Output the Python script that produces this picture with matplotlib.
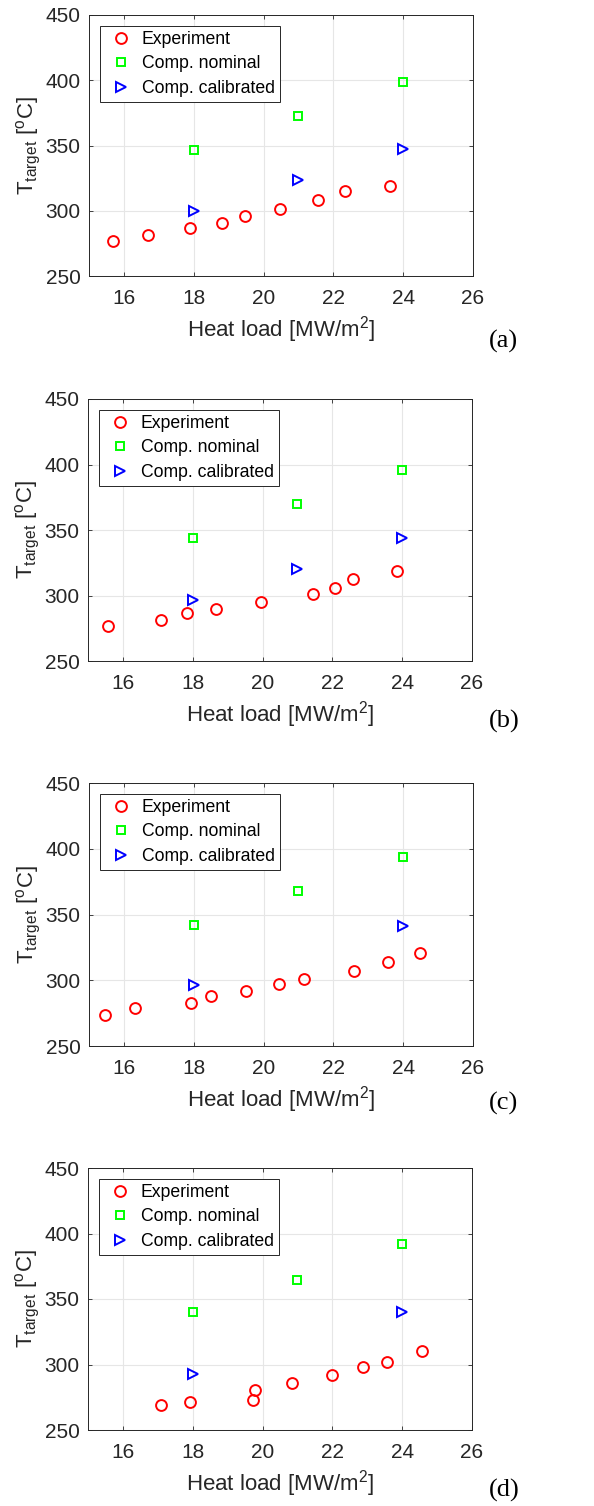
import matplotlib
matplotlib.use("Agg")
import matplotlib.pyplot as plt

plt.rcParams['font.family'] = ['Liberation Sans', 'DejaVu Sans']
plt.rcParams['mathtext.fontset'] = 'custom'
plt.rcParams['mathtext.rm'] = 'Liberation Sans'
plt.rcParams['mathtext.it'] = 'Liberation Sans:italic'

panel_labels = ['(a)', '(b)', '(c)', '(d)']

exp_x = [
    [15.68, 16.70, 17.89, 18.81, 19.48, 20.48, 21.56, 22.33, 23.62],
    [15.57, 17.10, 17.83, 18.68, 19.95, 21.44, 22.08, 22.60, 23.85],
    [15.46, 16.33, 17.92, 18.49, 19.50, 20.45, 21.15, 22.58, 23.57, 24.49],
    [17.10, 17.92, 19.73, 19.79, 20.84, 22.00, 22.88, 23.57, 24.57],
]
exp_y = [
    [277.0, 281.7, 286.8, 290.9, 295.7, 301.6, 308.0, 314.9, 318.7],
    [277.0, 281.0, 286.9, 290.0, 295.0, 300.9, 306.0, 312.8, 319.0],
    [273.9, 279.0, 282.8, 287.9, 291.9, 296.8, 300.9, 306.9, 313.8, 320.9],
    [268.9, 271.7, 272.9, 280.3, 285.9, 292.0, 297.9, 302.0, 310.1],
]
nom_x = [[18, 21, 24], [18, 21, 24], [18, 21, 24], [18, 21, 24]]
nom_y = [
    [346.6, 372.6, 398.7],
    [343.6, 369.8, 395.7],
    [342.0, 367.9, 393.8],
    [339.7, 364.6, 391.9],
]
cal_x = [[18, 21, 24], [18, 21, 24], [18, 24], [18, 24]]
cal_y = [
    [299.8, 323.8, 347.6],
    [296.8, 320.0, 343.9],
    [296.2, 341.1],
    [292.8, 339.9],
]

xticks = [16, 18, 20, 22, 24, 26]
yticks = [250, 300, 350, 400, 450]

W, H = 594, 1506
fig = plt.figure(figsize=(W / 100, H / 100), dpi=100)

# axes boxes in pixels: left, top, right, bottom
boxes = [(89, 15, 473, 276), (88, 399, 472, 661), (89, 783, 473, 1046), (88, 1168, 472, 1430)]
label_pos = [(489, 341), (489, 721), (489, 1103), (489, 1490)]

ink = '#262626'
for i in range(4):
    l, t, r, b = boxes[i]
    ax = fig.add_axes([l / W, 1 - b / H, (r - l) / W, (b - t) / H])
    ax.plot(exp_x[i], exp_y[i], 'o', mfc='none', mec='#ff0000', ms=7.8, mew=1.4, label='Experiment', ls='none')
    ax.plot(nom_x[i], nom_y[i], 's', mfc='none', mec='#00ff00', ms=5.6, mew=1.4, label='Comp. nominal', ls='none')
    ax.plot(cal_x[i], cal_y[i], '>', mfc='none', mec='#0000ff', ms=7.8, mew=1.4, label='Comp. calibrated', ls='none')
    ax.set_xlim(15, 26)
    ax.set_ylim(250, 450)
    ax.set_xticks(xticks)
    ax.set_yticks(yticks)
    ax.grid(True, color='#e6e6e6', lw=0.8)
    ax.set_axisbelow(True)
    for s in ax.spines.values():
        s.set_color(ink)
        s.set_linewidth(0.7)
    ax.tick_params(direction='in', length=3, width=0.6, color=ink, labelcolor=ink,
                   labelsize=15, top=True, right=True)
    ax.tick_params(axis='x', pad=9)
    ax.tick_params(axis='y', pad=6)
    ax.set_xlabel('Heat load [MW/m$^2$]', fontsize=16, color=ink, labelpad=5)
    ax.set_ylabel(r'T$_{\mathrm{target}}$ [$^{\mathrm{o}}$C]', fontsize=16, color=ink, labelpad=2)
    leg = ax.legend(loc='upper left', fontsize=12.7, frameon=True, fancybox=False,
                    edgecolor=ink, framealpha=1, borderaxespad=0.6, handletextpad=0.3,
                    labelspacing=0.42, borderpad=0.3, handlelength=1.8)
    leg.get_frame().set_linewidth(0.7)
    fig.text(label_pos[i][0] / W, 1 - label_pos[i][1] / H, panel_labels[i],
             family='Liberation Serif', fontsize=19, ha='left', va='center', color='black')

fig.savefig('out.png', dpi=100)
